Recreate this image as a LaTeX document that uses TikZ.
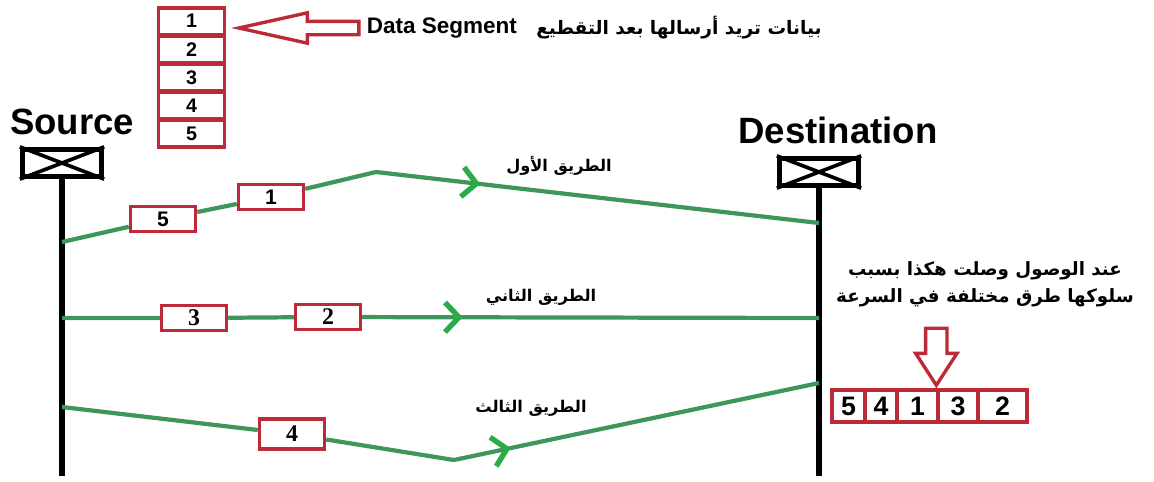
\documentclass[tikz,border=0pt]{standalone}
\usepackage{fontspec}
\setmainfont{Liberation Sans}
\newfontfamily\arabicfont[Script=Arabic]{DejaVu Sans}
\newfontfamily\timesfont{Liberation Serif}
\TeXXeTstate=1
\usetikzlibrary{positioning,shapes.arrows,arrows.meta,decorations.markings}

\definecolor{segred}{RGB}{188,42,56}
\definecolor{routegreen}{RGB}{62,150,92}
\definecolor{arrowgreen}{RGB}{40,172,72}

\tikzset{
    segbox/.style={draw=segred, line width=2.4pt, minimum width=1.66cm, minimum height=0.66cm,
        inner sep=0pt, font=\bfseries\fontsize{14}{14}\selectfont},
    pktbox/.style={draw=segred, line width=2.6pt, minimum width=1.62cm, minimum height=0.62cm,
        inner sep=0pt, font=\bfseries\fontsize{15}{15}\selectfont},
    timespkt/.style={font=\timesfont\fontsize{17}{17}\selectfont},
    resbox/.style={draw=segred, line width=2.4pt, minimum height=0.8cm,
        inner sep=0pt, font=\bfseries\fontsize{19}{19}\selectfont},
    hostlbl/.style={font=\bfseries\fontsize{26}{28}\selectfont},
    hostbox/.style={draw, line width=3.6pt, minimum width=1.98cm, minimum height=0.68cm, inner sep=0pt},
    hostx/.style={line width=2.6pt},
    lifeline/.style={line width=3.6pt},
    route/.style={draw=routegreen, line width=3pt},
    midarrow/.style={postaction={decorate}, decoration={markings,
        mark=at position #1 with {\arrow{Straight Barb[length=10pt, width=21pt, line width=3.8pt, color=arrowgreen]}}}},
    routelbl/.style={font=\arabicfont\bfseries\fontsize{11.5}{13}\selectfont},
    segpointer/.style={draw=segred, line width=2.4pt, single arrow, shape border rotate=180,
        inner sep=0.125cm, single arrow head extend=0.2125cm, single arrow tip angle=25,
        minimum height=3cm},
    arrivepointer/.style={draw=segred, line width=2.4pt, single arrow, shape border rotate=270,
        inner sep=0.225cm, single arrow head extend=0.25cm, single arrow tip angle=66,
        minimum height=1.425cm},
}

\begin{document}
\begin{tikzpicture}[x=0.025cm, y=-0.025cm]
    \useasboundingbox (0,0) rectangle (1154,481);

    % source and destination
    \node[hostlbl] (srclbl) at (72,122) {Source};
    \node[hostbox] (srcbox) at (62,163) {};
    \draw[hostx] (srcbox.north west) -- (srcbox.south east) (srcbox.south west) -- (srcbox.north east);
    \coordinate (srcend) at (62,476);
    \draw[lifeline] (srcbox.south) -- (srcend);

    \node[hostlbl] (dstlbl) at (838,130) {Destination};
    \node[hostbox] (dstbox) at (819,172) {};
    \draw[hostx] (dstbox.north west) -- (dstbox.south east) (dstbox.south west) -- (dstbox.north east);
    \coordinate (dstend) at (819,476);
    \draw[lifeline] (dstbox.south) -- (dstend);

    % the data cut into segments
    \pgfmathsetmacro{\rowh}{28.2}
    \foreach \n in {1,...,5} {
        \node[segbox] (seg\n) at (191.5,{7+(\n-0.5)*\rowh}) {\n};
    }
    \node[segpointer, anchor=tip] (segptr) at (231,28) {};
    \node[anchor=west, font=\bfseries\fontsize{16}{16}\selectfont] (datalbl) at (362,28) {Data Segment};
    \node[font=\arabicfont\bfseries\fontsize{13.2}{15}\selectfont] (datanote) at (679,28)
        {\beginR بيانات تريد أرسالها بعد التقطيع\endR};

    % packets on the way
    \node[pktbox] (pk5) at (163,219) {5};
    \node[pktbox] (pk1) at (271,197) {1};
    \node[pktbox, timespkt] (pk3) at (194,318) {\bfseries 3};
    \node[pktbox, timespkt] (pk2) at (328,317) {\bfseries 2};
    \node[pktbox, timespkt, minimum height=0.75cm] (pk4) at (292,434) {\bfseries 4};

    % first route
    \coordinate (s1) at (62,242);
    \coordinate (v1) at (376,172);
    \coordinate (d1) at (819,223);
    \draw[route] (s1) -- (pk5) -- (pk1) -- (v1);
    \draw[route, midarrow=0.235] (v1) -- (d1);
    \node[routelbl] (r1lbl) at (559,166) {\beginR الطريق الأول\endR};

    % second route
    \coordinate (s2) at (62,318);
    \coordinate (d2) at (819,318);
    \draw[route] (s2) -- (pk3) -- (pk2);
    \draw[route, midarrow=0.22] (pk2) -- (d2);
    \node[routelbl] (r2lbl) at (541,297) {\beginR الطريق الثاني\endR};

    % third route
    \coordinate (s3) at (62,407);
    \coordinate (v3) at (454,460);
    \coordinate (d3) at (819,383);
    \draw[route] (s3) -- (pk4) -- (v3);
    \draw[route, midarrow=0.155] (v3) -- (d3);
    \node[routelbl] (r3lbl) at (531,408) {\beginR الطريق الثالث\endR};

    % what arrives
    \node[align=center, font=\arabicfont\bfseries\fontsize{13}{19}\selectfont] (arrivenote) at (985,284)
        {\beginR عند الوصول وصلت هكذا بسبب\endR\\ \beginR سلوكها طرق مختلفة في السرعة\endR};
    \foreach \lab/\xl/\xr in {5/832/865, 4/865/897, 1/897/938, 3/938/978, 2/978/1027} {
        \pgfmathsetmacro{\bw}{(\xr-\xl)*0.025}
        \node[resbox, minimum width=\bw cm] (res\lab) at ({(\xl+\xr)/2},406) {\lab};
    }
    \node[arrivepointer, anchor=tip] (arriveptr) at (res3.north west) {};
\end{tikzpicture}
\end{document}
